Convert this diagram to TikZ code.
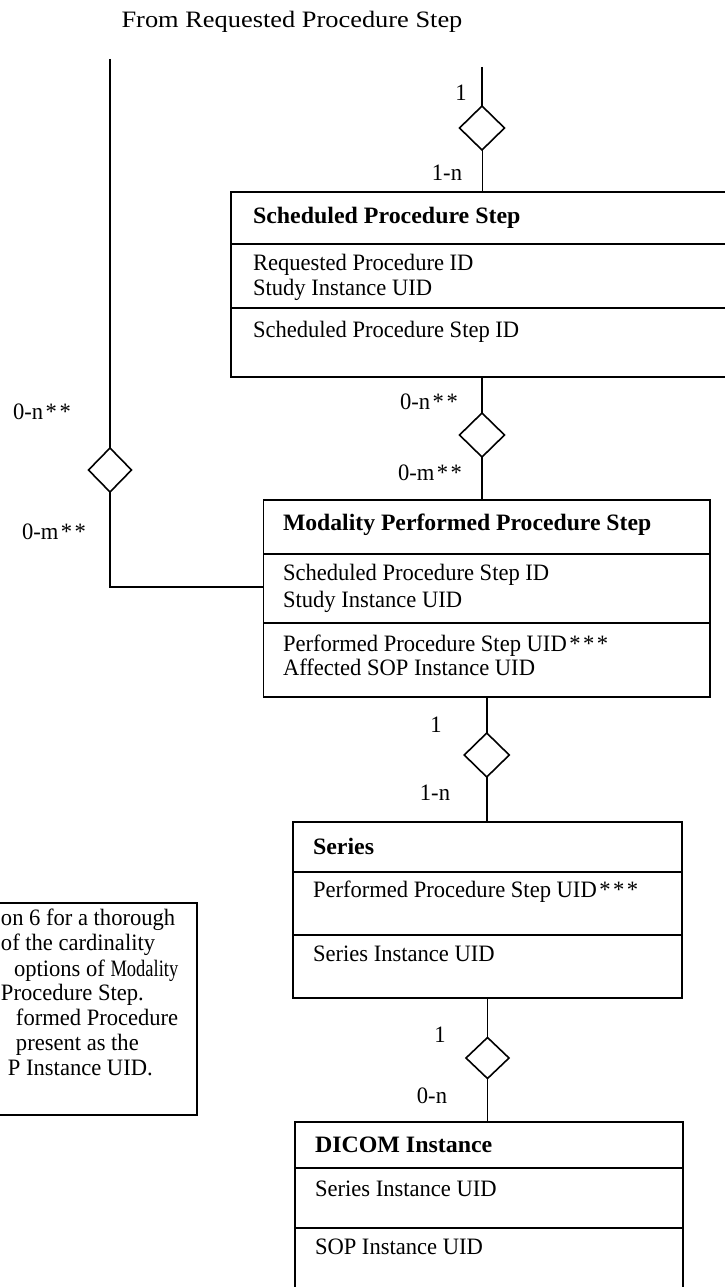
\documentclass[tikz,border=0pt]{standalone}
\usepackage{fontspec}
\setmainfont{Liberation Serif}[FakeStretch=0.96]
\usetikzlibrary{shapes.geometric}
% letter-spaced asterisks used by the cardinality labels
\newcommand\stars[1]{\kern2.5pt*\kern2.5pt*\ifnum#1>2\kern2.5pt*\fi}
\begin{document}
\begin{tikzpicture}[x=1pt,y=-1pt,
  every node/.style={inner sep=0pt, outer sep=0pt},
  txt/.style={anchor=west, text height=15.5pt, text depth=0pt, font=\fontsize{23.5}{26}\selectfont},
  lbl/.style={text height=15.5pt, text depth=0pt, font=\fontsize{23.5}{26}\selectfont},
  ttl/.style={anchor=west, text height=15.5pt, text depth=0pt, font=\fontsize{23.5}{26}\selectfont\bfseries},
  rowline/.style={line width=1.6pt},
  link/.style={line width=1.6pt},
  thinlink/.style={line width=0.8pt},
  rel/.style={diamond, draw, line width=1.6pt, minimum width=45pt, minimum height=44pt, aspect=1, inner sep=0pt}
]
\useasboundingbox (0,0) rectangle (725,1287);

% heading of the incoming relation
\node[lbl] (head) at (292,20) {\scalebox{1.17}[1]{From Requested Procedure Step}};

% ---------------- Scheduled Procedure Step ----------------
\node (sps) [draw, line width=1.8pt, minimum width=509pt, minimum height=185pt] at (485.5,284.5) {};
\draw[rowline] (sps.west |- 0,244) -- (sps.east |- 0,244);
\draw[rowline] (sps.west |- 0,308) -- (sps.east |- 0,308);
\node[ttl] (spsT) at (253,216) {\scalebox{1.06}[1]{Scheduled Procedure Step}};
\node[txt] (spsA) at (253,263) {Requested Procedure ID};
\node[txt] (spsB) at (253,288) {Study Instance UID};
\node[txt] (spsC) at (253,330) {Scheduled Procedure Step ID};

% ---------------- Modality Performed Procedure Step ----------------
\node (mpps) [draw, line width=1.8pt, minimum width=446.5pt, minimum height=197pt] at (486.75,598.5) {};
\draw[rowline] (mpps.west |- 0,554) -- (mpps.east |- 0,554);
\draw[rowline] (mpps.west |- 0,623) -- (mpps.east |- 0,623);
\node[ttl] (mppsT) at (283,523) {\scalebox{1.05}[1]{Modality Performed Procedure Step}};
\node[txt] (mppsA) at (283,573) {Scheduled Procedure Step ID};
\node[txt] (mppsB) at (283,600) {Study Instance UID};
\node[txt] (mppsC) at (283,644) {Performed Procedure Step UID\stars3};
\node[txt] (mppsD) at (283,668) {Affected SOP Instance UID};

% ---------------- Series ----------------
\node (ser) [draw, line width=1.8pt, minimum width=389pt, minimum height=176pt] at (487.5,910) {};
\draw[rowline] (ser.west |- 0,872) -- (ser.east |- 0,872);
\draw[rowline] (ser.west |- 0,935) -- (ser.east |- 0,935);
\node[ttl] (serT) at (313,847) {\scalebox{1.06}[1]{Series}};
\node[txt] (serA) at (313,890) {Performed Procedure Step UID\stars3};
\node[txt] (serB) at (313,954) {Series Instance UID};

% ---------------- DICOM Instance ----------------
\node (dic) [draw, line width=1.8pt, minimum width=388pt, minimum height=200pt] at (489,1222) {};
\draw[rowline] (dic.west |- 0,1168) -- (dic.east |- 0,1168);
\draw[rowline] (dic.west |- 0,1228) -- (dic.east |- 0,1228);
\node[ttl] (dicT) at (315,1145) {\scalebox{1.06}[1]{DICOM Instance}};
\node[txt] (dicA) at (315,1189) {Series Instance UID};
\node[txt] (dicB) at (315,1247) {SOP Instance UID};

% ---------------- relations ----------------
% from the requested procedure step into the scheduled step
\coordinate (rtop) at (482,67);
\node[rel] (d1) at (482,128) {};
\draw[link] (rtop) -- (d1.north);
\draw[thinlink] (d1.south) -- (d1.south |- sps.north);
\node[lbl] (d1a) at (461,93) {1};
\node[lbl] (d1b) at (447,173) {1-n};

% scheduled step to performed step
\node[rel] (d2) at (482,435) {};
\draw[link] (d2.north |- sps.south) -- (d2.north);
\draw[link] (d2.south) -- (d2.south |- mpps.north);
\node[lbl] (d2a) at (429,402) {0-n\stars2};
\node[lbl] (d2b) at (430,473) {0-m\stars2};

% requested step straight to performed step
\coordinate (ltop) at (110,59);
\node[rel, minimum width=43pt] (d5) at (110,470) {};
\draw[link] (ltop) -- (d5.north);
\draw[link] (d5.south) |- (mpps.west |- 0,587);
\node[lbl] (d5a) at (42,412) {0-n\stars2};
\node[lbl] (d5b) at (54,532) {0-m\stars2};

% performed step to series
\node[rel] (d3) at (486.75,755) {};
\draw[link] (mpps.south) -- (d3.north);
\draw[link] (d3.south) -- (d3.south |- ser.north);
\node[lbl] (d3a) at (436,725) {1};
\node[lbl] (d3b) at (435,793) {1-n};

% series to instance
\node[rel, minimum width=43pt, minimum height=41pt] (d4) at (487.5,1058) {};
\draw[link] (ser.south) -- (d4.north);
\draw[link] (d4.south) -- (d4.south |- dic.north);
\node[lbl] (d4a) at (440,1035) {1};
\node[lbl] (d4b) at (432,1096) {0-n};

% ---------------- note ----------------
\node (note) [draw, line width=1.6pt, minimum width=227pt, minimum height=212pt] at (83.5,1009) {};
\node[txt] (n1) at (1,918) {on 6 for a thorough};
\node[txt] (n2) at (1,943) {of the cardinality};
\node[txt] (n3) at (14,969) {options of \scalebox{0.82}[1]{Modality}};
\node[txt] (n4) at (1,993) {Procedure Step.};
\node[txt] (n5) at (16,1018) {formed Procedure};
\node[txt] (n6) at (16,1043) {present as the};
\node[txt] (n7) at (8,1068) {P Instance UID.};
\end{tikzpicture}
\end{document}
